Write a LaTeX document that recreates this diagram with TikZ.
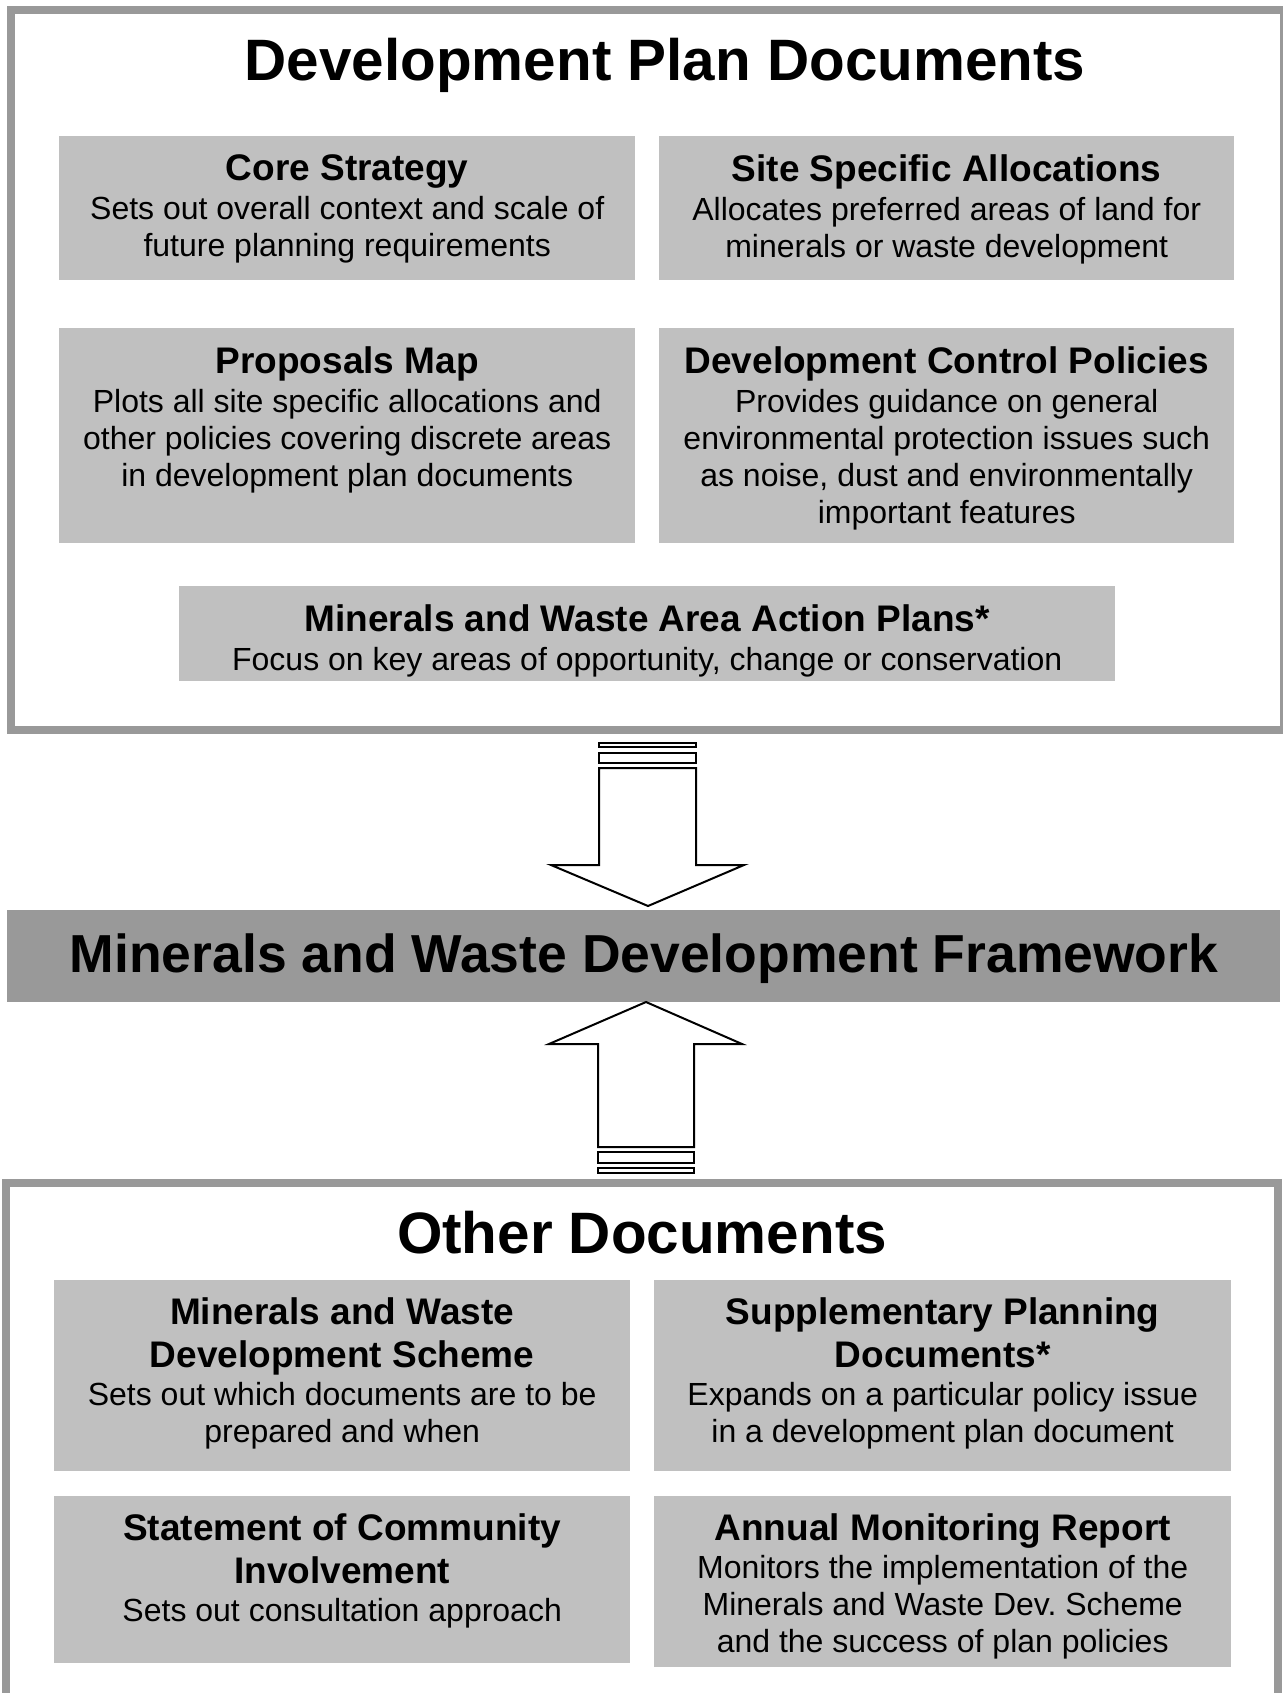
\documentclass[tikz,border=0pt]{standalone}
\usepackage{fontspec}
\setmainfont{Liberation Sans}
\definecolor{framegray}{HTML}{999999}
\definecolor{boxgray}{HTML}{C0C0C0}
% panel fonts; word spacing is reset to the font's own, since the
% ragged setting of a node with a text width fixes it otherwise
\newcommand\hdfont{\fontsize{37}{43}\selectfont\bfseries\frenchspacing\spaceskip=0pt\xspaceskip=0pt\relax}
\newcommand\txfont{\fontsize{32}{37}\selectfont\frenchspacing\spaceskip=0pt\xspaceskip=0pt\relax}
\newcommand\bigfont{\fontsize{58.4}{66}\selectfont\bfseries}
\newcommand\bandfont{\fontsize{53.5}{60}\selectfont\bfseries}
% one unbreakable line of a panel
\newcommand\pline[1]{\mbox{#1}}

\begin{document}
\begin{tikzpicture}[x=1pt,y=-1pt,
  frame/.style={draw=framegray, line width=8pt},
  panel/.style={fill=boxgray, inner sep=0pt, anchor=north west},
  paneltext/.style={inner sep=0pt, anchor=north, align=center},
  blockarrow/.style={draw=black, fill=white, line width=2pt, line join=miter},
]
\useasboundingbox (0,0) rectangle (1282,1693);
\fill[white] (0,0) rectangle (1282,1693);

% ---------- upper group: development plan documents ----------
\draw[frame] (11,10.5) rectangle (1284,730);
\node[anchor=base, inner sep=0pt] (dpd) at (665,81) {\bigfont Development Plan Documents};

\node[panel, minimum width=576pt, minimum height=144pt] (core) at (59,136) {};
\node[panel, minimum width=575pt, minimum height=144pt] (site) at (659,136) {};
\node[panel, minimum width=576pt, minimum height=215pt] (map) at (59,328) {};
\node[panel, minimum width=575pt, minimum height=215pt] (dcp) at (659,328) {};
\node[panel, minimum width=936pt, minimum height=95pt] (aap) at (179,586) {};

\node[paneltext, text width=570pt] (core-t) at ([yshift=-18pt]core.north)
  {{\hdfont\pline{Core Strategy}\par}\vspace{2pt}
   {\txfont\pline{Sets out overall context and scale of}\\ \pline{future planning requirements}\par}};
\node[paneltext, text width=570pt] (site-t) at ([yshift=-18pt]site.north)
  {{\hdfont\pline{Site Specific Allocations}\par}\vspace{2pt}
   {\txfont\pline{Allocates preferred areas of land for}\\ \pline{minerals or waste development}\par}};
\node[paneltext, text width=570pt] (map-t) at ([yshift=-18pt]map.north)
  {{\hdfont\pline{Proposals Map}\par}\vspace{2pt}
   {\txfont\pline{Plots all site specific allocations and}\\ \pline{other policies covering discrete areas}\\ \pline{in development plan documents}\par}};
\node[paneltext, text width=570pt] (dcp-t) at ([yshift=-18pt]dcp.north)
  {{\hdfont\pline{Development Control Policies}\par}\vspace{2pt}
   {\txfont\pline{Provides guidance on general}\\ \pline{environmental protection issues such}\\ \pline{as noise, dust and environmentally}\\ \pline{important features}\par}};
\node[paneltext, text width=930pt] (aap-t) at ([yshift=-18pt]aap.north)
  {{\hdfont\pline{Minerals and Waste Area Action Plans*}\par}\vspace{2pt}
   {\txfont\pline{Focus on key areas of opportunity, change or conservation}\par}};

% ---------- central band ----------
\node[fill=framegray, inner sep=0pt, anchor=north west, minimum width=1273pt, minimum height=92pt] (band) at (7,910) {};
\node[anchor=base, inner sep=0pt] (band-t) at (644,972) {\bandfont Minerals and Waste Development Framework};

% ---------- block arrows ----------
\draw[blockarrow] (599,743) rectangle (696,747);
\draw[blockarrow] (599,753) rectangle (696,763);
\draw[blockarrow] (599,768) -- (599,865) -- (551,865) -- (648,906)
  -- (744,865) -- (696,865) -- (696,768) -- cycle;

\draw[blockarrow] (598,1168) rectangle (694,1173);
\draw[blockarrow] (598,1152) rectangle (694,1163);
\draw[blockarrow] (598,1147) -- (598,1044) -- (549,1044) -- (646,1002)
  -- (742,1044) -- (694,1044) -- (694,1147) -- cycle;

% ---------- lower group: other documents ----------
\draw[frame] (6,1183) rectangle (1278,1705);
\node[anchor=base, inner sep=0pt] (od) at (642,1253) {\bigfont Other Documents};

\node[panel, minimum width=576pt, minimum height=191pt] (scheme) at (54,1280) {};
\node[panel, minimum width=577pt, minimum height=191pt] (spd) at (654,1280) {};
\node[panel, minimum width=576pt, minimum height=167pt] (sci) at (54,1496) {};
\node[panel, minimum width=577pt, minimum height=171pt] (amr) at (654,1496) {};

\node[paneltext, text width=570pt] (scheme-t) at ([yshift=-17pt]scheme.north)
  {{\hdfont\pline{Minerals and Waste}\\ \pline{Development Scheme}\par}\vspace{1pt}
   {\txfont\pline{Sets out which documents are to be}\\ \pline{prepared and when}\par}};
\node[paneltext, text width=570pt] (spd-t) at ([yshift=-17pt]spd.north)
  {{\hdfont\pline{Supplementary Planning}\\ \pline{Documents*}\par}\vspace{1pt}
   {\txfont\pline{Expands on a particular policy issue}\\ \pline{in a development plan document}\par}};
\node[paneltext, text width=570pt] (sci-t) at ([yshift=-17pt]sci.north)
  {{\hdfont\pline{Statement of Community}\\ \pline{Involvement}\par}\vspace{1pt}
   {\txfont\pline{Sets out consultation approach}\par}};
\node[paneltext, text width=570pt] (amr-t) at ([yshift=-17pt]amr.north)
  {{\hdfont\pline{Annual Monitoring Report}\par}\vspace{1pt}
   {\txfont\pline{Monitors the implementation of the}\\ \pline{Minerals and Waste Dev. Scheme}\\ \pline{and the success of plan policies}\par}};
\end{tikzpicture}
\end{document}
